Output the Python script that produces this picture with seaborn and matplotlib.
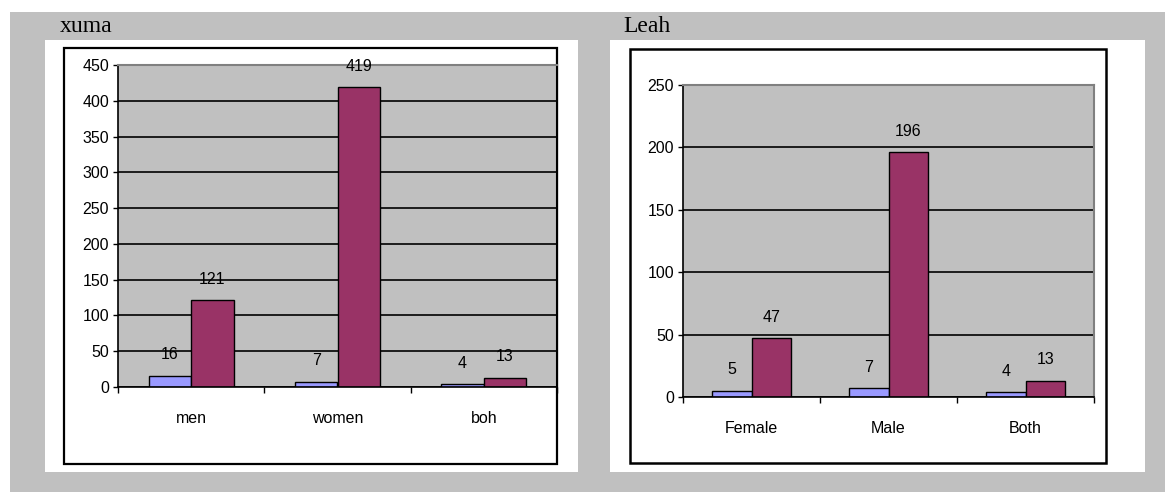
import matplotlib
matplotlib.use("Agg")
import matplotlib.pyplot as plt
from matplotlib.patches import Rectangle
import pandas as pd
import seaborn as sns

# ---- data -------------------------------------------------------------
left_title = "xuma"
left_categories = ["men", "women", "boh"]
left_series1 = [16, 7, 4]
left_series2 = [121, 419, 13]
left_yticks = [0, 50, 100, 150, 200, 250, 300, 350, 400, 450]

right_title = "Leah"
right_categories = ["Female", "Male", "Both"]
right_series1 = [5, 7, 4]
right_series2 = [47, 196, 13]
right_yticks = [0, 50, 100, 150, 200, 250]

series_names = ["Series1", "Series2"]
colors = ["#9999FF", "#993366"]

# ---- figure -----------------------------------------------------------
W, H = 1165, 492
fig = plt.figure(figsize=(W / 100, H / 100), dpi=100)
fig.patch.set_facecolor("white")

SANS = "Liberation Sans"
SERIF = "Liberation Serif"
FS = 11.5


def px_rect(x0, y0, x1, y1, **kw):
    """Rectangle given in pixel coordinates measured from the top-left."""
    r = Rectangle((x0 / W, 1 - y1 / H), (x1 - x0) / W, (y1 - y0) / H,
                  transform=fig.transFigure, **kw)
    fig.add_artist(r)
    return r


def px_axes(x0, y0, x1, y1):
    return fig.add_axes([x0 / W, 1 - y1 / H, (x1 - x0) / W, (y1 - y0) / H])


# page background and chart frames
px_rect(10, 12, W, H, facecolor="#C0C0C0", edgecolor="none", zorder=-10)
px_rect(45, 40, 578, 472, facecolor="white", edgecolor="none", zorder=-9)
px_rect(64, 48, 557, 464, facecolor="white", edgecolor="black",
        linewidth=1.6, zorder=-8)
px_rect(610, 40, 1145, 472, facecolor="white", edgecolor="none", zorder=-9)
px_rect(630, 49, 1106, 463, facecolor="white", edgecolor="black",
        linewidth=1.8, zorder=-8)


def draw_chart(ax, categories, s1, s2, yticks, right_color):
    df = pd.DataFrame({
        "category": categories * 2,
        "series": [series_names[0]] * len(categories)
                  + [series_names[1]] * len(categories),
        "value": list(s1) + list(s2),
    })
    sns.barplot(data=df, x="category", y="value", hue="series",
                hue_order=series_names, order=categories, palette=colors,
                width=0.58, edgecolor="black", linewidth=1.0,
                saturation=1, legend=False, ax=ax, errorbar=None)

    ax.set_facecolor("#C0C0C0")
    ax.set_xlim(-0.5, len(categories) - 0.5)
    ax.set_ylim(yticks[0], yticks[-1])
    ax.set_xlabel("")
    ax.set_ylabel("")

    # y axis
    ax.set_yticks(yticks)
    ax.set_yticklabels([str(t) for t in yticks], fontfamily=SANS,
                       fontsize=FS)
    ax.tick_params(axis="y", direction="out", length=3.5, width=1.0,
                   pad=3, colors="black")
    ax.yaxis.grid(True, color="black", linewidth=1.2)
    ax.set_axisbelow(True)

    # x axis: tick marks between groups, labels under group centres
    n = len(categories)
    ax.set_xticks([i - 0.5 for i in range(n + 1)])
    ax.set_xticklabels([""] * (n + 1))
    ax.set_xticks(range(n), minor=True)
    ax.set_xticklabels(categories, minor=True, fontfamily=SANS,
                       fontsize=FS)
    ax.tick_params(axis="x", which="major", direction="out", length=4.5,
                   width=1.0)
    ax.tick_params(axis="x", which="minor", length=0, pad=17)

    for side in ("left", "bottom"):
        ax.spines[side].set_color("black")
        ax.spines[side].set_linewidth(1.2)
    ax.spines["top"].set_color("#808080")
    ax.spines["top"].set_linewidth(1.5)
    ax.spines["right"].set_color(right_color)
    ax.spines["right"].set_linewidth(1.5)

    # value labels above each bar
    for container, vals in zip(ax.containers, (s1, s2)):
        for bar, v in zip(container, vals):
            ax.annotate(str(v),
                        xy=(bar.get_x() + bar.get_width() / 2, v),
                        xytext=(0, 21), textcoords="offset pixels",
                        ha="center", va="center", fontfamily=SANS,
                        fontsize=FS, color="black", annotation_clip=False)


ax_left = px_axes(118, 65, 557, 387)
draw_chart(ax_left, left_categories, left_series1, left_series2,
           left_yticks, "black")

ax_right = px_axes(683, 85, 1094, 397)
draw_chart(ax_right, right_categories, right_series1, right_series2,
           right_yticks, "#808080")

# chart captions
fig.text(60 / W, 1 - 27 / H, left_title, fontfamily=SERIF, fontsize=17,
         ha="left", va="center")
fig.text(623 / W, 1 - 27 / H, right_title, fontfamily=SERIF, fontsize=17,
         ha="left", va="center")

fig.savefig("out.png", dpi=100, facecolor=fig.get_facecolor())
